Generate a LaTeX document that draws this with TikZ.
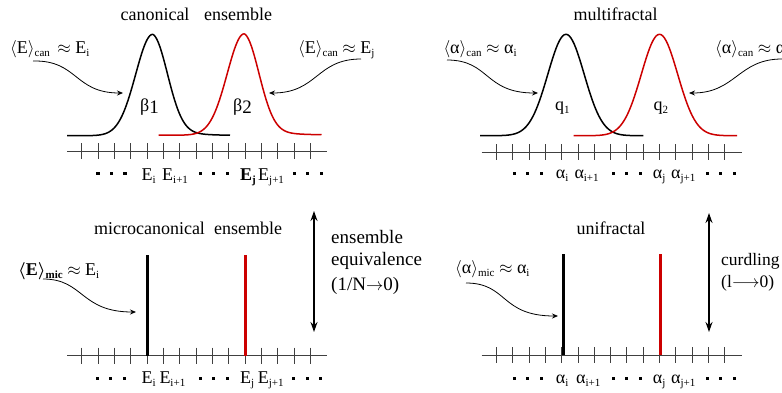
\documentclass[tikz,border=0pt]{standalone}
\usepackage{amsmath}
\usepackage{fontspec}
\setmainfont{Liberation Serif}
\usetikzlibrary{arrows.meta}
\newcommand{\fs}{\fontsize{18}{21}\selectfont}
\newcommand{\fb}{\fontsize{19}{22}\selectfont}
\newcommand{\fc}{\fontsize{17.5}{21}\selectfont}
\newcommand{\sbs}[1]{\raisebox{-0.4ex}{\fontsize{11}{12}\selectfont #1}}
\newcommand{\dts}{\rule{3.2pt}{3.2pt}\hspace{10.3pt}\rule{3.2pt}{3.2pt}\hspace{10.3pt}\rule{3.2pt}{3.2pt}}
\begin{document}
\begin{tikzpicture}[x=1pt,y=-1pt,
  txt/.style={font=\fs, inner sep=0pt, anchor=base west},
  head/.style={font=\fs, inner sep=0pt, anchor=base},
  side/.style={font=\fb, inner sep=0pt, anchor=base west},
  sidec/.style={font=\fc, inner sep=0pt, anchor=base west},
  dotrow/.style={inner sep=0pt, anchor=west},
  axisline/.style={black!75, line width=0.9pt},
  tick/.style={black!75, line width=0.9pt},
  curve/.style={line width=1.5pt},
  redc/.style={red!80!black},
  bar/.style={line width=3pt},
  pointer/.style={line width=0.8pt, -{Stealth[length=6pt,width=5pt]}},
  dbl/.style={line width=1.4pt, {Stealth[length=10pt,width=7pt]}-{Stealth[length=10pt,width=7pt]}}]
\useasboundingbox (0,0) rectangle (782,392);

% ---------- axes ----------
\foreach \ox/\oy in {0/151, 0/355.5, 414.5/152, 414.5/355}{
  \draw[axisline] (67+\ox,\oy) -- (327+\ox,\oy);
  \foreach \k in {0,...,14}{
    \draw[tick] (81.8+\ox+\k*16.33,\oy-8) -- (81.8+\ox+\k*16.33,\oy+8);
  }
}

% ---------- top-left: canonical ----------
\node[head] (hcan) at (155,20) {canonical};
\node[head] (hens) at (238,20) {ensemble};
\draw[curve] plot[domain=67:152.7,samples=60] (\x,{135.7-101.4*exp(-((\x-152.7)^2)/578)})
  -- plot[domain=152.7:230,samples=60] (\x,{135.7-101.4*(0.9*exp(-((\x-152.7)^2)/450)+0.1*exp(-(\x-152.7)/25))});
\draw[curve,redc] plot[domain=158.5:244.2,samples=60] (\x,{135.2-101.4*exp(-((\x-244.2)^2)/578)})
  -- plot[domain=244.2:321.5,samples=60] (\x,{135.2-101.4*(0.9*exp(-((\x-244.2)^2)/450)+0.1*exp(-(\x-244.2)/25))});
\node[txt] (b1) at (140,111) {β\raisebox{-0.3ex}{\fontsize{19}{20}\selectfont 1}};
\node[txt] (b2) at (233,111) {β\raisebox{-0.3ex}{\fontsize{19}{20}\selectfont 2}};
\node[txt] (lci) at (10,53) {$\langle$E$\rangle$\sbs{can} \,$\approx$ E\sbs{i}};
\node[txt] (lcj) at (298,53) {$\langle$E$\rangle$\sbs{can} $\approx$ E\sbs{j}};
\coordinate (s1) at (33,61);
\coordinate (t1) at (123,93);
\coordinate (s2) at (361,59);
\coordinate (t2) at (269,93);
\draw[pointer] (s1) .. controls (78,60) and (74,93) .. (t1);
\draw[pointer] (s2) .. controls (316,59) and (318,93) .. (t2);
\node[dotrow] (d1) at (96.2,173.3) {\dts};
\node[dotrow] (d2) at (198.5,173.3) {\dts};
\node[dotrow] (d3) at (292.5,173.3) {\dts};
\node[txt] (x1) at (141.5,180) {E\sbs{i}};
\node[txt] (x2) at (162,180) {E\sbs{i+1}};
\node[txt] (x3) at (240,180) {\textbf{E}\sbs{\textbf{j}}};
\node[txt] (x4) at (258,180) {E\sbs{j+1}};

% ---------- bottom-left: microcanonical ----------
\node[head] (hmic) at (149.5,234) {microcanonical};
\node[head] (hens2) at (248,234) {ensemble};
\draw[bar] (147.6,255) -- (147.6,355.5);
\draw[bar,red!80!black] (245.6,255) -- (245.6,355.5);
\node[txt] (lmi) at (18,275) {$\boldsymbol{\langle}$\textbf{E}$\boldsymbol{\rangle}$\sbs{\textbf{mic}} $\approx$ E\sbs{i}};
\coordinate (s3) at (43,279);
\coordinate (t3) at (136,312);
\draw[pointer] (s3) .. controls (84,279) and (80,312) .. (t3);
\node[side] (eq1) at (331,243) {ensemble};
\node[side] (eq2) at (331,265) {equivalence};
\node[side] (eq3) at (331,290) {(1/N$\rightarrow$0)};
\coordinate (u1) at (314,211);
\coordinate (v1) at (314,332);
\draw[dbl] (u1) -- (v1);
\node[dotrow] (d4) at (95.5,378.3) {\dts};
\node[dotrow] (d5) at (198.5,378.3) {\dts};
\node[dotrow] (d6) at (292,378.3) {\dts};
\node[txt] (y1) at (141.5,383) {E\sbs{i}};
\node[txt] (y2) at (159.3,383) {E\sbs{i+1}};
\node[txt] (y3) at (240,383) {E\sbs{j}};
\node[txt] (y4) at (257.7,383) {E\sbs{j+1}};

% ---------- top-right: multifractal ----------
\node[head] (hmf) at (615.5,20) {multifractal};
\draw[curve] plot[domain=480:643.3,samples=100] (\x,{135.7-101.4*exp(-((\x-566)^2)/660)});
\draw[curve,redc] plot[domain=573.5:737,samples=100] (\x,{135.7-101.4*exp(-((\x-659.5)^2)/660)});
\node[txt] (q1) at (555,110) {q\sbs{1}};
\node[txt] (q2) at (653.3,110) {q\sbs{2}};
\node[txt] (lai) at (443.3,53) {$\langle$α$\rangle$\sbs{can} $\approx$ α\sbs{i}};
\node[txt] (laj) at (715,53) {$\langle$α$\rangle$\sbs{can} $\approx$ α\sbs{j}};
\coordinate (s4) at (447,60);
\coordinate (t4) at (538,93);
\coordinate (s5) at (782,59);
\coordinate (t5) at (689,93);
\draw[pointer] (s4) .. controls (490,60) and (484,93) .. (t4);
\draw[pointer] (s5) .. controls (738,59) and (736,93) .. (t5);
\node[dotrow] (d7) at (512.5,173.3) {\dts};
\node[dotrow] (d8) at (611.5,173.3) {\dts};
\node[dotrow] (d9) at (705.5,173.3) {\dts};
\node[txt] (z1) at (555.7,178.5) {α\sbs{i}};
\node[txt] (z2) at (574.3,178.5) {α\sbs{i+1}};
\node[txt] (z3) at (652.7,178.5) {α\sbs{j}};
\node[txt] (z4) at (671,178.5) {α\sbs{j+1}};

% ---------- bottom-right: unifractal ----------
\node[head] (huf) at (611,234) {unifractal};
\draw[bar] (563,254) -- (563,355);
\draw[bar,red!80!black] (660,254) -- (660,355);
\node[txt] (lam) at (455,273.3) {$\langle$α$\rangle$\sbs{mic} $\approx$ α\sbs{i}};
\coordinate (s6) at (466,283);
\coordinate (t6) at (558,316);
\draw[pointer] (s6) .. controls (508,283) and (500,316) .. (t6);
\node[sidec] (cu1) at (721,265) {curdling};
\node[sidec] (cu2) at (721,287) {(l$\longrightarrow$0)};
\coordinate (u2) at (709,213);
\coordinate (v2) at (709,332);
\draw[dbl] (u2) -- (v2);
\node[dotrow] (d10) at (512.5,378.3) {\dts};
\node[dotrow] (d11) at (611.5,378.3) {\dts};
\node[dotrow] (d12) at (705.5,378.3) {\dts};
\node[txt] (w1) at (555.7,383) {α\sbs{i}};
\node[txt] (w2) at (576,383) {α\sbs{i+1}};
\node[txt] (w3) at (652.7,383) {α\sbs{j}};
\node[txt] (w4) at (671,383) {α\sbs{j+1}};
\end{tikzpicture}
\end{document}
